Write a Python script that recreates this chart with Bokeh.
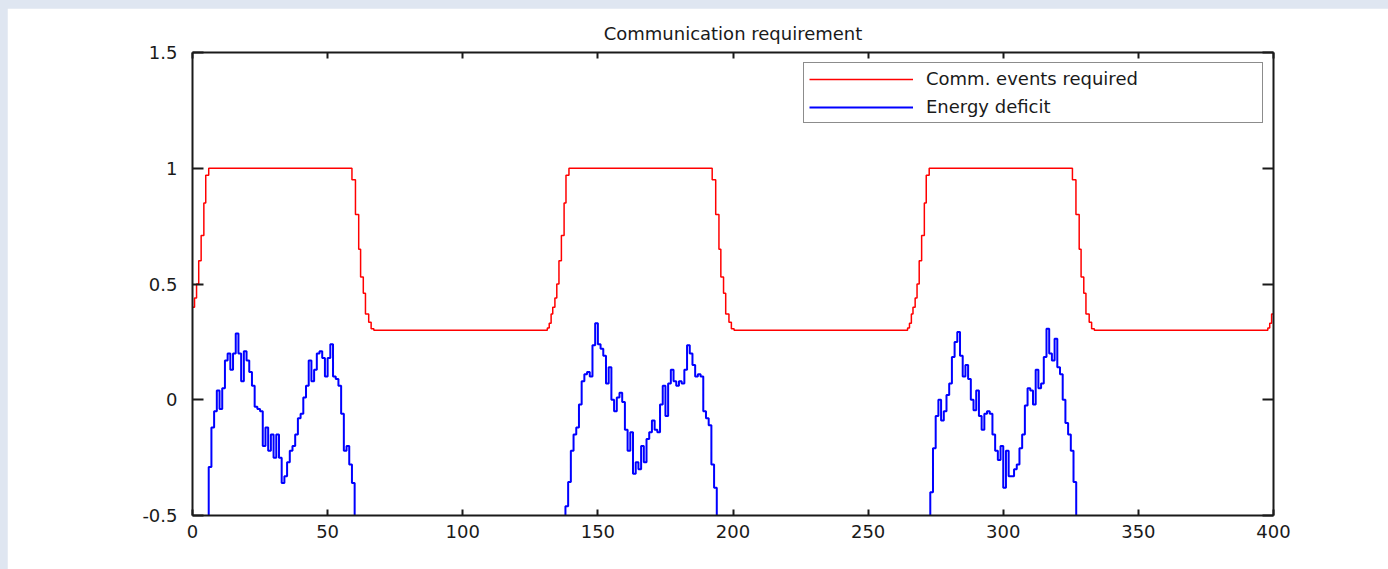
from bokeh.plotting import figure
from bokeh.models import (Range1d, LinearAxis, FixedTicker, CustomJSTickFormatter,
                          Legend, LegendItem)
from bokeh.layouts import column
from bokeh.embed import file_html
from bokeh.resources import INLINE

# ---- data -------------------------------------------------------------
# Communication events required: change points of the stepped curve
comm_x = [0, 0.75, 1.5, 2.3, 3.2, 4.2, 4.9, 6,
          59, 60.3, 61.5, 62.2, 63.2, 64, 65.2, 66.1, 67.1,
          131.3, 132, 132.7, 133.3, 134.1, 134.8, 135.6, 136.5, 137.5, 138.2, 139.3,
          192.3, 193.6, 194.8, 195.5, 196.5, 197.3, 198.5, 199.4, 200.4,
          264.6, 265.3, 266, 266.6, 267.4, 268.1, 268.9, 269.8, 270.8, 271.5, 272.6,
          325.6, 326.9, 328.1, 328.8, 329.8, 330.6, 331.8, 332.7, 333.7,
          397.9, 398.6, 399.3, 400]
comm_y = [0.40, 0.44, 0.50, 0.60, 0.71, 0.85, 0.97, 1.00,
          0.95, 0.80, 0.65, 0.53, 0.46, 0.37, 0.335, 0.307, 0.30,
          0.31, 0.33, 0.37, 0.40, 0.44, 0.50, 0.60, 0.71, 0.85, 0.97, 1.00,
          0.95, 0.80, 0.65, 0.53, 0.46, 0.37, 0.335, 0.307, 0.30,
          0.31, 0.33, 0.37, 0.40, 0.44, 0.50, 0.60, 0.71, 0.85, 0.97, 1.00,
          0.95, 0.80, 0.65, 0.53, 0.46, 0.37, 0.335, 0.307, 0.30,
          0.31, 0.33, 0.37, 0.37]

# Energy deficit: three active periods, one value per time step
deficit_start = [6, 138, 273]
deficit_1 = [-0.29, -0.12, -0.05, 0.04, -0.04, 0.05, 0.17, 0.20, 0.13, 0.20,
             0.286, 0.20, 0.08, 0.21, 0.17, 0.12, 0.06, -0.03, -0.04, -0.05,
             -0.20, -0.12, -0.22, -0.15, -0.25, -0.15, -0.25, -0.36, -0.33, -0.27,
             -0.22, -0.20, -0.15, -0.08, -0.06, 0.01, 0.06, 0.17, 0.08, 0.13,
             0.20, 0.21, 0.18, 0.10, 0.18, 0.24, 0.10, 0.09, 0.06, -0.06,
             -0.22, -0.20, -0.28, -0.36]
deficit_2 = [-0.46, -0.355, -0.22, -0.15, -0.12, -0.02, 0.08, 0.11, 0.12, 0.10,
             0.235, 0.33, 0.24, 0.22, 0.19, 0.07, 0.14, 0.00, -0.05, 0.01,
             0.03, -0.01, -0.13, -0.22, -0.14, -0.32, -0.27, -0.30, -0.20, -0.27,
             -0.17, -0.14, -0.09, -0.13, -0.14, -0.02, 0.06, -0.07, 0.07, 0.13,
             0.08, 0.06, 0.08, 0.07, 0.13, 0.235, 0.20, 0.15, 0.10, 0.11,
             0.10, -0.05, -0.08, -0.11, -0.28, -0.38]
deficit_3 = [-0.40, -0.21, -0.07, 0.00, -0.09, -0.05, 0.02, 0.07, 0.185, 0.25,
             0.293, 0.19, 0.10, 0.15, 0.09, 0.00, -0.045, 0.04, -0.07, -0.13,
             -0.06, -0.05, -0.06, -0.15, -0.22, -0.26, -0.20, -0.38, -0.22, -0.33,
             -0.33, -0.30, -0.28, -0.21, -0.15, -0.025, 0.05, 0.04, -0.02, 0.13,
             0.05, 0.07, 0.185, 0.307, 0.20, 0.17, 0.264, 0.14, 0.11, 0.00,
             -0.10, -0.15, -0.22, -0.355]
deficit_off = -1.0   # value outside the active periods (below the axis)

x_ticks = [0, 50, 100, 150, 200, 250, 300, 350, 400]
y_ticks = [-0.5, 0, 0.5, 1, 1.5]

FONT = "DejaVu Sans"
INK = "#1a1a1a"

# ---- figure -----------------------------------------------------------
p = figure(width=1381, height=561, output_backend="svg", toolbar_location=None,
           x_range=Range1d(0, 400), y_range=Range1d(-0.5, 1.5),
           frame_width=1081, frame_height=463,
           min_border_left=185, min_border_right=115,
           min_border_top=44, min_border_bottom=54,
           x_axis_location=None, y_axis_location=None,
           title="Communication requirement")
p.background_fill_color = "white"
p.border_fill_color = "white"
p.outline_line_color = None
p.xgrid.visible = False
p.ygrid.visible = False

p.title.align = "center"
p.title.text_font = FONT
p.title.text_font_size = "18px"
p.title.text_font_style = "normal"
p.title.text_color = INK
p.title.standoff = 18

fmt = CustomJSTickFormatter(code="return tick.toString();")


def make_axis(ticks, tick_len, show_labels):
    ax = LinearAxis(ticker=FixedTicker(ticks=ticks), formatter=fmt)
    ax.axis_line_color = INK
    ax.axis_line_width = 2
    ax.major_tick_line_color = INK
    ax.major_tick_line_width = 2
    ax.major_tick_in = tick_len
    ax.major_tick_out = 0
    ax.minor_tick_line_color = None
    ax.major_label_text_font = FONT
    if show_labels:
        ax.major_label_text_font_size = "18px"
        ax.major_label_text_color = INK
    else:
        # mirrored box side: ticks only
        ax.major_label_text_font_size = "1px"
        ax.major_label_text_color = None
        ax.major_label_standoff = 0
    return ax


bottom = make_axis(x_ticks, 6, True)
bottom.major_label_standoff = 9
top = make_axis(x_ticks, 6, False)
left = make_axis(y_ticks, 11, True)
left.major_label_standoff = 15
right = make_axis(y_ticks, 11, False)
p.add_layout(bottom, "below")
p.add_layout(top, "above")
p.add_layout(left, "left")
p.add_layout(right, "right")

# ---- series -------------------------------------------------------------
red = p.step(comm_x, comm_y, mode="after", line_color="#ff0000", line_width=1.5)

blue_renderers = []
for start, vals in zip(deficit_start, [deficit_1, deficit_2, deficit_3]):
    xs = [start - 1] + [start + i for i in range(len(vals))] + [start + len(vals)]
    ys = [deficit_off] + vals + [deficit_off]
    blue_renderers.append(
        p.step(xs, ys, mode="after", line_color="#0000ff", line_width=2))

legend = Legend(items=[LegendItem(label="Comm. events required", renderers=[red]),
                       LegendItem(label="Energy deficit", renderers=[blue_renderers[0]])],
                location="top_right")
legend.margin = 10
legend.padding = 5
legend.spacing = 7
legend.glyph_width = 104
legend.glyph_height = 16
legend.label_height = 16
legend.label_width = 331
legend.label_standoff = 13
legend.label_text_font = FONT
legend.label_text_font_size = "18px"
legend.label_text_color = INK
legend.border_line_color = INK
legend.border_line_width = 1.5
legend.background_fill_color = "white"
legend.background_fill_alpha = 1
p.add_layout(legend, "center")

page = column(p, styles={"background-color": "#dfe6f1",
                         "padding-top": "8px", "padding-left": "7px"})

open("out.html", "w").write(file_html(page, INLINE))
